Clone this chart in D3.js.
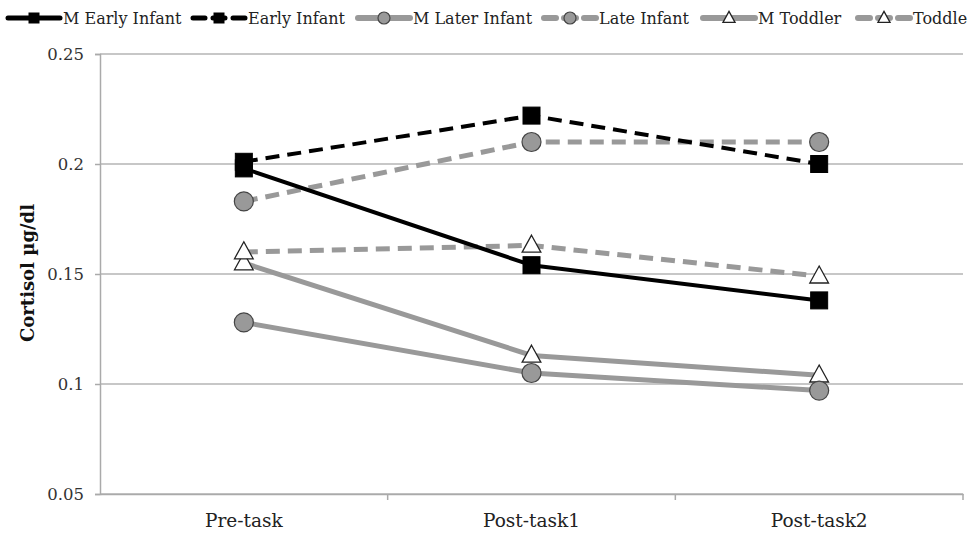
<!DOCTYPE html>
<html><head><meta charset="utf-8">
<script src="https://cdn.jsdelivr.net/npm/d3@7/dist/d3.min.js"></script>
<style>body{margin:0;background:#fff}svg{display:block}</style>
</head><body>
<svg id="c" width="976" height="537"></svg>
<script>
const categories = ["Pre-task", "Post-task1", "Post-task2"];
const seriesNames = ["M Early Infant", "Early Infant", "M Later Infant", "Late Infant", "M Toddler", "Toddle"];
const mEarlyInfant = [0.198, 0.154, 0.138];
const earlyInfant = [0.201, 0.222, 0.200];
const mLaterInfant = [0.128, 0.105, 0.097];
const lateInfant = [0.183, 0.210, 0.210];
const mToddler = [0.155, 0.113, 0.104];
const toddler = [0.160, 0.163, 0.149];
const yTicks = [0.05, 0.1, 0.15, 0.2, 0.25];

const styles = [
  {color:"#000", dash:null, marker:"square", width:4},
  {color:"#000", dash:"14,8", marker:"square", width:4},
  {color:"#999", dash:null, marker:"circle", width:5},
  {color:"#999", dash:"14,8", marker:"circle", width:5},
  {color:"#999", dash:null, marker:"triangle", width:5},
  {color:"#999", dash:"14,8", marker:"triangle", width:5}
];
const data = [mEarlyInfant, earlyInfant, mLaterInfant, lateInfant, mToddler, toddler];
const drawOrder = [4,5,2,3,0,1];

const svg = d3.select("#c");
const font = "'DejaVu Serif', 'Liberation Serif', serif";
const L = 100, R = 963, T = 54, B = 494;
const x = d3.scaleBand().domain(categories).range([L, R]).paddingInner(0).paddingOuter(0);
const y = d3.scaleLinear().domain([0.05, 0.25]).range([B, T]);
const cx = c => x(c) + x.bandwidth()/2;

svg.append("g").selectAll("line").data(yTicks).join("line")
  .attr("x1", L).attr("x2", R).attr("y1", d=>y(d)).attr("y2", d=>y(d))
  .attr("stroke", "#b5b5b5").attr("stroke-width", 1.5);

const yAxis = svg.append("g").attr("transform", `translate(${L},0)`)
  .call(d3.axisLeft(y).tickValues(yTicks).tickSize(5).tickPadding(11).tickFormat(d=>String(+d.toFixed(2))));
yAxis.select(".domain").attr("stroke", "#aaa").attr("stroke-width", 1.5);
yAxis.selectAll(".tick line").attr("stroke", "#aaa").attr("stroke-width", 1.5);
yAxis.selectAll("text").attr("font-family", font).attr("font-size", 16.5).attr("fill", "#333");

const xAxis = svg.append("g").attr("transform", `translate(0,${B})`)
  .call(d3.axisBottom(x).tickSize(0).tickPadding(20));
xAxis.select(".domain").attr("stroke", "#aaa").attr("stroke-width", 1.5);
xAxis.selectAll("text").attr("font-family", font).attr("font-size", 18.5).attr("fill", "#222");
const bounds = [x(categories[1]), x(categories[2]), R];
svg.append("g").selectAll("line").data(bounds).join("line")
  .attr("x1", d=>d).attr("x2", d=>d).attr("y1", B).attr("y2", B+6)
  .attr("stroke", "#aaa").attr("stroke-width", 1.5);

svg.append("text").attr("transform", `translate(34,273) rotate(-90)`)
  .attr("text-anchor", "middle").attr("font-family", font).attr("font-weight", "bold")
  .attr("font-size", 18).attr("fill", "#111").text("Cortisol µg/dl");

function drawMarker(g, type, px, py, s) {
  if (type === "square") {
    g.append("rect").attr("x", px - s.sq/2).attr("y", py - s.sq/2).attr("width", s.sq).attr("height", s.sq)
      .attr("fill", "#000").attr("stroke", "#000").attr("stroke-width", 1);
  } else if (type === "circle") {
    g.append("circle").attr("cx", px).attr("cy", py).attr("r", s.r)
      .attr("fill", "#999").attr("stroke", "#444").attr("stroke-width", 1.2);
  } else {
    const h = s.tri, w = s.tri*1.1;
    g.append("path").attr("d", `M${px},${py-h*0.6} L${px+w/2},${py+h*0.4} L${px-w/2},${py+h*0.4} Z`)
      .attr("fill", "#fff").attr("stroke", "#222").attr("stroke-width", 1.3);
  }
}

const line = d3.line().x((d,i)=>cx(categories[i])).y(d=>y(d));
drawOrder.forEach(k => {
  const st = styles[k];
  svg.append("path").datum(data[k]).attr("d", line).attr("fill", "none")
    .attr("stroke", st.color).attr("stroke-width", st.width)
    .attr("stroke-dasharray", st.dash).attr("stroke-linejoin", "round");
});
drawOrder.forEach(k => {
  const st = styles[k];
  const g = svg.append("g");
  data[k].forEach((v,i) => drawMarker(g, st.marker, cx(categories[i]), y(v), {sq:17, r:9.5, tri:17}));
});

const legX = [8, 193, 358, 544, 703, 858];
const lg = svg.append("g");
seriesNames.forEach((n, k) => {
  const st = styles[k];
  const x0 = legX[k], ly = 18;
  lg.append("line").attr("x1", x0).attr("x2", x0+52).attr("y1", ly).attr("y2", ly)
    .attr("stroke", st.color).attr("stroke-width", st.width+1).attr("stroke-linecap", "round")
    .attr("stroke-dasharray", st.dash ? "12,8" : null);
  drawMarker(lg, st.marker, x0+26, ly, {sq:10, r:6, tri:11});
  lg.append("text").attr("x", x0+55).attr("y", ly).attr("dy", "0.35em")
    .attr("font-family", font).attr("font-size", 16).attr("fill", "#222").text(n);
});
</script>
</body></html>
